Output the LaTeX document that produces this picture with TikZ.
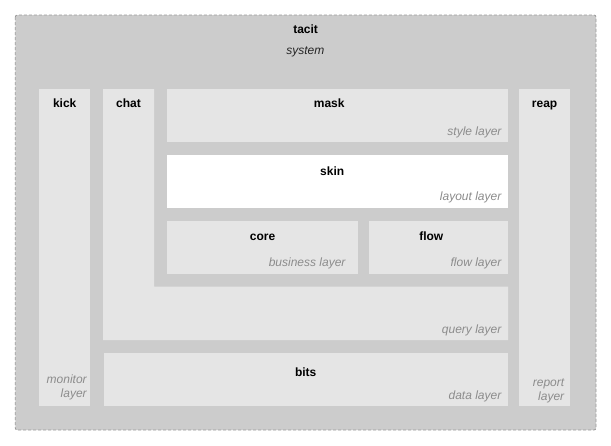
\documentclass[tikz,border=0pt]{standalone}
\usepackage{fontspec}
\setmainfont{Liberation Sans}
\begin{document}
\begin{tikzpicture}[x=1pt,y=-1pt,
  outerbox/.style={fill=outergray,draw=bordergray,dashed,dash pattern=on 3pt off 2pt,line width=0.8pt,rounded corners=2pt},
  panel/.style={fill=panelgray,draw=none},
  whitepanel/.style={fill=white,draw=none},
  title/.style={font=\bfseries\fontsize{12}{14}\selectfont,text=black,inner sep=0pt,anchor=base},
  layerlbl/.style={font=\itshape\fontsize{12}{14}\selectfont,text=labelgray,inner sep=0pt,anchor=base east},
  syslbl/.style={font=\itshape\fontsize{12}{14}\selectfont,text=black!85,inner sep=0pt,anchor=base}]
\definecolor{outergray}{HTML}{CCCCCC}
\definecolor{panelgray}{HTML}{E5E5E5}
\definecolor{bordergray}{HTML}{999999}
\definecolor{labelgray}{HTML}{8C8C8C}
\useasboundingbox (0,0) rectangle (611,445);
% outer system box
\path[outerbox] (15.3,15) rectangle (596,430);
\coordinate (outerNW) at (15.3,15);
% boxes
\path[panel] (39,89) rectangle (90,405.5) coordinate (kickSE);
\path[panel] (103,89) -- (154,89) -- (154,286.7) -- (508,286.7) -- (508,340) -- (103,340) -- cycle;
\path[panel] (167,89) rectangle (508,142);
\path[whitepanel] (167,155) rectangle (508,208);
\path[panel] (167,221) rectangle (357.5,274);
\path[panel] (369,221) rectangle (508,274);
\path[panel] (104.3,352.7) rectangle (508,405.5);
\path[panel] (519.3,89) rectangle (570.3,405.5);
% titles
\node[title] (tacit) at (305.6,33.3) {tacit};
\node[syslbl] (system) at (305.3,54) {system};
\node[title] (kick) at (64.7,107.3) {kick};
\node[title] (chat) at (128.5,107.3) {chat};
\node[title] (mask) at (329.2,107.3) {mask};
\node[title] (reap) at (544.6,107.3) {reap};
\node[title] (skin) at (332.2,175) {skin};
\node[title] (core) at (262.5,240.5) {core};
\node[title] (flow) at (431.3,240.3) {flow};
\node[title] (bits) at (305.7,376.5) {bits};
% layer labels
\node[layerlbl] (style) at (501.7,135.5) {style layer};
\node[layerlbl] (layout) at (501.5,200.8) {layout layer};
\node[layerlbl] (business) at (345.7,266.9) {business layer};
\node[layerlbl] (flowl) at (501.5,266.9) {flow layer};
\node[layerlbl] (query) at (501.5,333.4) {query layer};
\node[layerlbl] (data) at (501.5,399.4) {data layer};
\node[layerlbl] (monitor) at (86.9,383.5) {monitor};
\node[layerlbl] (monitor2) at (86.9,397.5) {layer};
\node[layerlbl] (report) at (564.4,386) {report};
\node[layerlbl] (report2) at (564.4,400) {layer};
\end{tikzpicture}
\end{document}
